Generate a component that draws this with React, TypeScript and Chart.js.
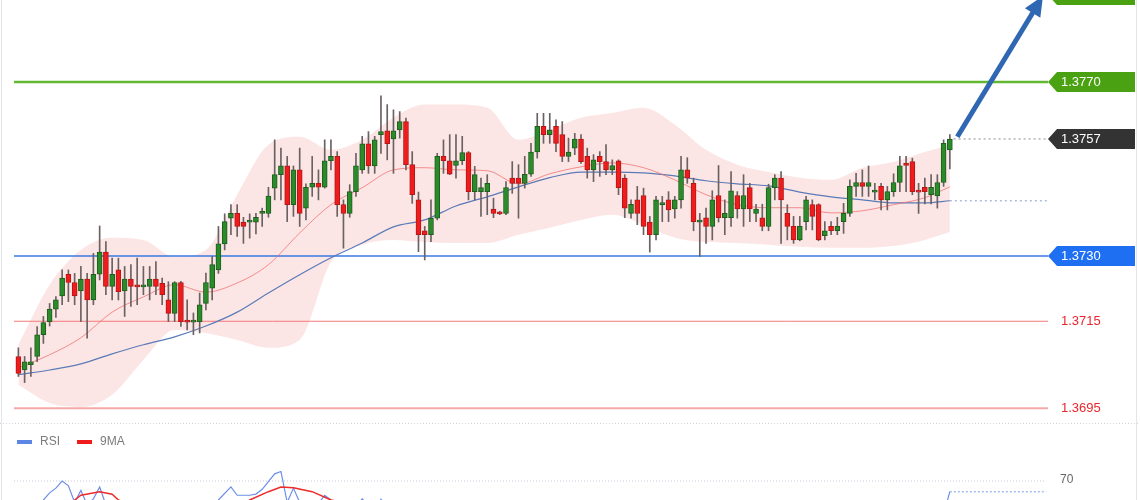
import React, { useEffect, useRef } from 'react';
import { Chart, registerables } from 'chart.js';

Chart.register(...registerables);

// ---------- candles (150 bars) ----------
const opens = [
  1.37069, 1.37038, 1.37050, 1.37069, 1.37119, 1.37149, 1.37178, 1.37208, 1.37258, 1.37239,
  1.37220, 1.37247, 1.37199, 1.37258, 1.37309, 1.37230, 1.37268, 1.37220, 1.37247, 1.37231,
  1.37229, 1.37230, 1.37247, 1.37237, 1.37199, 1.37168, 1.37239, 1.37150, 1.37148, 1.37149,
  1.37191, 1.37226, 1.37268, 1.37328, 1.37387, 1.37398, 1.37378, 1.37378, 1.37378, 1.37398,
  1.37398, 1.37456, 1.37487, 1.37507, 1.37418, 1.37498, 1.37410, 1.37458, 1.37467, 1.37458,
  1.37519, 1.37529, 1.37418, 1.37398, 1.37448, 1.37498, 1.37558, 1.37507, 1.37579, 1.37588,
  1.37569, 1.37590, 1.37609, 1.37510, 1.37429, 1.37358, 1.37349, 1.37387, 1.37529, 1.37519,
  1.37508, 1.37519, 1.37538, 1.37448, 1.37448, 1.37448, 1.37408, 1.37399, 1.37398, 1.37479,
  1.37479, 1.37467, 1.37488, 1.37539, 1.37598, 1.37579, 1.37598, 1.37579, 1.37529, 1.37548,
  1.37569, 1.37529, 1.37498, 1.37529, 1.37517, 1.37498, 1.37519, 1.37479, 1.37398, 1.37429,
  1.37439, 1.37378, 1.37349, 1.37418, 1.37429, 1.37408, 1.37429, 1.37498, 1.37467, 1.37378,
  1.37388, 1.37368, 1.37439, 1.37388, 1.37388, 1.37439, 1.37408, 1.37457, 1.37398, 1.37388,
  1.37368, 1.37457, 1.37479, 1.37398, 1.37368, 1.37337, 1.37379, 1.37418, 1.37418, 1.37347,
  1.37368, 1.37358, 1.37379, 1.37398, 1.37460, 1.37469, 1.37460, 1.37447, 1.37460, 1.37429,
  1.37448, 1.37469, 1.37513, 1.37517, 1.37449, 1.37458, 1.37441, 1.37438, 1.37469, 1.37544,
];
const highs = [
  1.37089, 1.37069, 1.37089, 1.37138, 1.37161, 1.37191, 1.37207, 1.37268, 1.37268, 1.37260,
  1.37276, 1.37260, 1.37306, 1.37369, 1.37333, 1.37295, 1.37295, 1.37276, 1.37280, 1.37295,
  1.37276, 1.37276, 1.37287, 1.37249, 1.37241, 1.37241, 1.37242, 1.37199, 1.37169, 1.37215,
  1.37261, 1.37299, 1.37368, 1.37397, 1.37418, 1.37418, 1.37389, 1.37397, 1.37398, 1.37410,
  1.37458, 1.37567, 1.37548, 1.37529, 1.37507, 1.37548, 1.37466, 1.37529, 1.37498, 1.37567,
  1.37567, 1.37540, 1.37429, 1.37464, 1.37536, 1.37575, 1.37586, 1.37575, 1.37668, 1.37648,
  1.37636, 1.37632, 1.37617, 1.37540, 1.37447, 1.37368, 1.37429, 1.37536, 1.37567, 1.37579,
  1.37579, 1.37575, 1.37540, 1.37506, 1.37479, 1.37487, 1.37433, 1.37403, 1.37471, 1.37517,
  1.37510, 1.37529, 1.37559, 1.37628, 1.37628, 1.37628, 1.37613, 1.37609, 1.37571, 1.37582,
  1.37579, 1.37548, 1.37533, 1.37540, 1.37556, 1.37521, 1.37521, 1.37487, 1.37429, 1.37460,
  1.37456, 1.37391, 1.37437, 1.37437, 1.37448, 1.37437, 1.37529, 1.37526, 1.37479, 1.37398,
  1.37410, 1.37450, 1.37508, 1.37429, 1.37494, 1.37448, 1.37487, 1.37467, 1.37419, 1.37419,
  1.37465, 1.37487, 1.37494, 1.37418, 1.37391, 1.37391, 1.37437, 1.37429, 1.37420, 1.37379,
  1.37379, 1.37389, 1.37421, 1.37475, 1.37490, 1.37498, 1.37507, 1.37467, 1.37467, 1.37460,
  1.37489, 1.37529, 1.37529, 1.37525, 1.37467, 1.37479, 1.37487, 1.37487, 1.37567, 1.37579,
];
const lows = [
  1.37023, 1.37009, 1.37023, 1.37057, 1.37099, 1.37139, 1.37159, 1.37188, 1.37195, 1.37188,
  1.37149, 1.37111, 1.37188, 1.37245, 1.37211, 1.37199, 1.37199, 1.37161, 1.37184, 1.37188,
  1.37211, 1.37199, 1.37211, 1.37188, 1.37149, 1.37149, 1.37138, 1.37130, 1.37119, 1.37123,
  1.37176, 1.37199, 1.37260, 1.37314, 1.37349, 1.37345, 1.37329, 1.37341, 1.37351, 1.37368,
  1.37389, 1.37429, 1.37429, 1.37379, 1.37391, 1.37368, 1.37383, 1.37437, 1.37429, 1.37456,
  1.37498, 1.37391, 1.37318, 1.37389, 1.37437, 1.37490, 1.37490, 1.37490, 1.37536, 1.37521,
  1.37490, 1.37571, 1.37498, 1.37421, 1.37310, 1.37291, 1.37333, 1.37383, 1.37490, 1.37487,
  1.37479, 1.37510, 1.37429, 1.37429, 1.37391, 1.37395, 1.37388, 1.37395, 1.37395, 1.37444,
  1.37387, 1.37456, 1.37483, 1.37525, 1.37559, 1.37559, 1.37540, 1.37517, 1.37517, 1.37533,
  1.37513, 1.37479, 1.37471, 1.37483, 1.37487, 1.37487, 1.37441, 1.37388, 1.37387, 1.37372,
  1.37349, 1.37309, 1.37337, 1.37379, 1.37379, 1.37387, 1.37410, 1.37467, 1.37358, 1.37299,
  1.37329, 1.37337, 1.37378, 1.37349, 1.37368, 1.37387, 1.37368, 1.37379, 1.37379, 1.37358,
  1.37358, 1.37429, 1.37329, 1.37337, 1.37329, 1.37335, 1.37360, 1.37360, 1.37335, 1.37337,
  1.37349, 1.37349, 1.37352, 1.37391, 1.37437, 1.37437, 1.37437, 1.37429, 1.37406, 1.37406,
  1.37437, 1.37448, 1.37448, 1.37441, 1.37398, 1.37420, 1.37420, 1.37410, 1.37460, 1.37500,
];
const closes = [
  1.37030, 1.37057, 1.37057, 1.37119, 1.37147, 1.37178, 1.37199, 1.37249, 1.37239, 1.37208,
  1.37247, 1.37199, 1.37258, 1.37309, 1.37230, 1.37258, 1.37218, 1.37247, 1.37230, 1.37229,
  1.37231, 1.37247, 1.37230, 1.37211, 1.37168, 1.37239, 1.37149, 1.37148, 1.37150, 1.37188,
  1.37239, 1.37280, 1.37328, 1.37379, 1.37398, 1.37368, 1.37368, 1.37380, 1.37389, 1.37402,
  1.37438, 1.37487, 1.37507, 1.37418, 1.37498, 1.37398, 1.37458, 1.37467, 1.37458, 1.37519,
  1.37529, 1.37418, 1.37398, 1.37448, 1.37507, 1.37558, 1.37507, 1.37567, 1.37586, 1.37558,
  1.37588, 1.37609, 1.37510, 1.37441, 1.37349, 1.37349, 1.37387, 1.37529, 1.37519, 1.37488,
  1.37519, 1.37538, 1.37448, 1.37487, 1.37457, 1.37467, 1.37398, 1.37397, 1.37457, 1.37467,
  1.37467, 1.37488, 1.37539, 1.37598, 1.37579, 1.37590, 1.37559, 1.37529, 1.37539, 1.37569,
  1.37517, 1.37498, 1.37521, 1.37517, 1.37498, 1.37508, 1.37457, 1.37410, 1.37419, 1.37398,
  1.37368, 1.37349, 1.37429, 1.37420, 1.37406, 1.37429, 1.37498, 1.37479, 1.37379, 1.37380,
  1.37368, 1.37429, 1.37388, 1.37398, 1.37450, 1.37408, 1.37439, 1.37408, 1.37408, 1.37368,
  1.37457, 1.37479, 1.37429, 1.37368, 1.37337, 1.37368, 1.37429, 1.37391, 1.37337, 1.37358,
  1.37358, 1.37368, 1.37398, 1.37460, 1.37469, 1.37460, 1.37469, 1.37449, 1.37429, 1.37448,
  1.37469, 1.37507, 1.37508, 1.37448, 1.37447, 1.37448, 1.37458, 1.37469, 1.37559, 1.37569,
];

// ---------- overlays, read at every 5th bar ----------
const bandIdx = [0, 5, 10, 15, 20, 25, 30, 35, 40, 45, 50, 55, 60, 65, 70, 75, 80, 85, 90, 95, 100, 105, 110, 115, 120, 125, 130, 135, 140, 145, 149];
const bbUpper = [1.37096, 1.37234, 1.37314, 1.37342, 1.37337, 1.37298, 1.37314, 1.37441, 1.37556, 1.37574, 1.37544, 1.37567, 1.37618, 1.37648, 1.37648, 1.37641, 1.37567, 1.37590, 1.37618, 1.37629, 1.37641, 1.37602, 1.37544, 1.37510, 1.37493, 1.37480, 1.37475, 1.37503, 1.37516, 1.37539, 1.37556];
const bbLower = [1.37004, 1.36962, 1.36953, 1.36981, 1.37061, 1.37130, 1.37123, 1.37107, 1.37089, 1.37107, 1.37286, 1.37326, 1.37337, 1.37332, 1.37330, 1.37330, 1.37349, 1.37365, 1.37383, 1.37395, 1.37372, 1.37342, 1.37332, 1.37330, 1.37326, 1.37321, 1.37319, 1.37319, 1.37323, 1.37337, 1.37355];
const maFast = [1.37043, 1.37073, 1.37112, 1.37171, 1.37206, 1.37234, 1.37217, 1.37238, 1.37280, 1.37353, 1.37418, 1.37457, 1.37498, 1.37503, 1.37498, 1.37496, 1.37466, 1.37489, 1.37505, 1.37514, 1.37503, 1.37475, 1.37441, 1.37418, 1.37411, 1.37411, 1.37399, 1.37404, 1.37418, 1.37434, 1.37459];
const maSlow = [1.37027, 1.37038, 1.37052, 1.37075, 1.37096, 1.37114, 1.37139, 1.37171, 1.37215, 1.37257, 1.37296, 1.37330, 1.37367, 1.37383, 1.37415, 1.37436, 1.37459, 1.37480, 1.37493, 1.37493, 1.37491, 1.37484, 1.37473, 1.37466, 1.37461, 1.37447, 1.37436, 1.37429, 1.37422, 1.37422, 1.37427];

// ---------- horizontal levels ----------
const levelValues = [1.3790, 1.3770, 1.3730, 1.3715, 1.3695];
const levelLabels = ['1.3790', '1.3770', '1.3730', '1.3715', '1.3695'];
const lastPriceLabel = '1.3757';
const arrowFrom = [150.2, 1.37574];
const arrowTo = [163.9, 1.37898];

// ---------- RSI panel ----------
const rsiIdx = [0, 2, 3, 4, 5, 6, 7, 8, 9, 10, 11, 12, 13, 14, 16, 18, 20, 24, 27, 29, 31, 32, 34, 35, 37, 38, 39, 41, 42, 43, 44, 45, 47, 49, 50, 52, 55, 57, 58, 60, 62, 64, 66, 70, 75, 80, 85, 90, 95, 100, 105, 110, 115, 120, 125, 130, 135, 140, 145, 147, 148, 149];
const rsiVal = [50, 55, 60, 62, 65, 67, 70, 68, 61, 66, 60, 62.5, 67.5, 60, 58, 55, 52, 48, 40, 45, 58, 62, 67.5, 64, 64, 64.5, 66.5, 73, 74, 61, 67, 61, 57, 64, 62, 53, 62.5, 57, 62.3, 57, 60, 50, 40, 55, 48, 52, 58, 52, 47, 42, 45, 38, 46, 42, 36, 40, 52, 48, 47, 50, 56, 65.5];
const rsiMaIdx = [0, 5, 8, 9, 10, 13, 15, 16, 18, 22, 28, 33, 37, 40, 42, 44, 47, 50, 55, 60, 65, 70, 80, 90, 100, 110, 120, 130, 140, 149];
const rsiMaVal = [52, 56, 60, 62, 64, 65.5, 64.4, 62, 60, 56, 48, 52, 62, 65.5, 67.5, 67.2, 65.5, 62, 59, 58, 55, 52, 50, 54, 45, 40, 42, 40, 47, 52];
const rsiTicks = [70];

// ---------- styling ----------
const X_MIN = -0.7;
const X_MAX = 164.7;
const FONT = '"Liberation Sans", Arial, sans-serif';
const levelColors = ['#62b733', '#62b733', '#3a78e4', '#f47a7a', '#f7a9a9'];
const levelWidths = [2.5, 2.5, 1.6, 1, 2];
const tagColors = ['#4aa111', '#4aa111', '#1f6ff2', null, null];
const GREEN = '#2b8b2b';
const GREEN_B = '#1d5e1d';
const RED = '#ee1c1c';
const RED_B = '#b51616';

const pts = (idx: number[], vals: number[]) => idx.map((x, k) => ({ x, y: vals[k] }));

function drawTag(ctx: CanvasRenderingContext2D, left: number, right: number, yc: number, color: string, text: string) {
  ctx.fillStyle = color;
  ctx.beginPath();
  ctx.moveTo(left, yc);
  ctx.lineTo(left + 9, yc - 10);
  ctx.lineTo(right, yc - 10);
  ctx.lineTo(right, yc + 10);
  ctx.lineTo(left + 9, yc + 10);
  ctx.closePath();
  ctx.fill();
  ctx.fillStyle = '#ffffff';
  ctx.font = `13px ${FONT}`;
  ctx.textBaseline = 'middle';
  ctx.textAlign = 'left';
  ctx.fillText(text, left + 13, yc + 0.5);
}

function frame(ctx: CanvasRenderingContext2D, h: number) {
  ctx.strokeStyle = '#e2e5ea';
  ctx.lineWidth = 1;
  ctx.setLineDash([]);
  ctx.beginPath();
  ctx.moveTo(1.5, 0);
  ctx.lineTo(1.5, h);
  ctx.moveTo(1136.5, 0);
  ctx.lineTo(1136.5, h);
  ctx.stroke();
}

const pricePlugin = {
  id: 'priceDecor',
  afterDatasetsDraw(chart: any) {
    const { ctx, chartArea } = chart;
    const x = chart.scales.x;
    const y = chart.scales.y;
    ctx.save();
    const left = chartArea.right;
    const right = 1135;
    levelValues.forEach((v, k) => {
      const yc = y.getPixelForValue(v);
      const c = tagColors[k];
      if (c) {
        drawTag(ctx, left, right, yc, c, levelLabels[k]);
      } else {
        ctx.fillStyle = '#e8262c';
        ctx.font = `13px ${FONT}`;
        ctx.textBaseline = 'middle';
        ctx.textAlign = 'left';
        ctx.fillText(levelLabels[k], left + 13, yc + 0.5);
      }
    });
    drawTag(ctx, left, right, y.getPixelForValue(closes[closes.length - 1]), '#333333', lastPriceLabel);

    // arrow
    const sx = x.getPixelForValue(arrowFrom[0]);
    const sy = y.getPixelForValue(arrowFrom[1]);
    const ex = x.getPixelForValue(arrowTo[0]);
    const ey = y.getPixelForValue(arrowTo[1]);
    const ang = Math.atan2(ey - sy, ex - sx);
    const headLen = 20;
    const headW = 9;
    const bx = ex - headLen * Math.cos(ang);
    const by = ey - headLen * Math.sin(ang);
    ctx.strokeStyle = '#2f67b2';
    ctx.fillStyle = '#2f67b2';
    ctx.lineWidth = 5;
    ctx.beginPath();
    ctx.moveTo(sx, sy);
    ctx.lineTo(bx + 2 * Math.cos(ang), by + 2 * Math.sin(ang));
    ctx.stroke();
    ctx.beginPath();
    ctx.moveTo(ex, ey);
    ctx.lineTo(bx + headW * Math.sin(ang), by - headW * Math.cos(ang));
    ctx.lineTo(bx - headW * Math.sin(ang), by + headW * Math.cos(ang));
    ctx.closePath();
    ctx.fill();

    // separator
    ctx.strokeStyle = '#cfd4dc';
    ctx.lineWidth = 1;
    ctx.setLineDash([1, 2]);
    ctx.beginPath();
    ctx.moveTo(0, 423.5);
    ctx.lineTo(1140, 423.5);
    ctx.stroke();
    frame(ctx, chart.height);
    ctx.restore();
  },
};

const rsiPlugin = {
  id: 'rsiDecor',
  afterDatasetsDraw(chart: any) {
    const { ctx, chartArea } = chart;
    const y = chart.scales.y;
    ctx.save();
    ctx.font = `12px ${FONT}`;
    ctx.textBaseline = 'middle';
    ctx.textAlign = 'left';
    ctx.fillStyle = '#5b86e5';
    ctx.fillRect(17, 15, 15, 4);
    ctx.fillStyle = '#7b7b7b';
    ctx.fillText('RSI', 40, 17);
    ctx.fillStyle = '#ee1c1c';
    ctx.fillRect(77, 15, 15, 4);
    ctx.fillStyle = '#7b7b7b';
    ctx.fillText('9MA', 100, 17);
    rsiTicks.forEach((t) => {
      ctx.fillStyle = '#666666';
      ctx.fillText(String(t), chartArea.right + 12, y.getPixelForValue(t) - 1);
    });
    frame(ctx, chart.height);
    ctx.restore();
  },
};

export default function App() {
  const priceRef = useRef<HTMLCanvasElement | null>(null);
  const rsiRef = useRef<HTMLCanvasElement | null>(null);

  useEffect(() => {
    const n = closes.length;
    const idx = closes.map((_, i) => i);
    const up = closes.map((c, i) => c >= opens[i]);

    const levelSets = levelValues.map((v, k) => ({
      type: 'line',
      data: [{ x: X_MIN, y: v }, { x: X_MAX, y: v }],
      borderColor: levelColors[k],
      borderWidth: levelWidths[k],
      pointRadius: 0,
      fill: false,
      order: 7,
    }));

    const price = new Chart(priceRef.current as HTMLCanvasElement, {
      type: 'line',
      data: {
        datasets: [
          {
            type: 'line',
            data: pts(bandIdx, bbUpper),
            borderWidth: 0,
            borderColor: 'rgba(0,0,0,0)',
            backgroundColor: 'rgba(247,175,175,0.33)',
            fill: '+1',
            pointRadius: 0,
            cubicInterpolationMode: 'monotone',
            order: 10,
          },
          {
            type: 'line',
            data: pts(bandIdx, bbLower),
            borderWidth: 0,
            borderColor: 'rgba(0,0,0,0)',
            fill: false,
            pointRadius: 0,
            cubicInterpolationMode: 'monotone',
            order: 10,
          },
          {
            type: 'line',
            data: pts(bandIdx, maFast),
            borderColor: 'rgba(240,110,110,0.75)',
            borderWidth: 1,
            pointRadius: 0,
            fill: false,
            cubicInterpolationMode: 'monotone',
            order: 5,
          },
          {
            type: 'line',
            data: pts(bandIdx, maSlow),
            borderColor: '#5a7bb8',
            borderWidth: 1.2,
            pointRadius: 0,
            fill: false,
            cubicInterpolationMode: 'monotone',
            order: 5,
          },
          ...levelSets,
          {
            type: 'line',
            data: [{ x: n - 0.4, y: closes[n - 1] }, { x: X_MAX, y: closes[n - 1] }],
            borderColor: '#8a8a8a',
            borderWidth: 1,
            borderDash: [2, 3],
            pointRadius: 0,
            fill: false,
            order: 6,
          },
          {
            type: 'line',
            data: [{ x: bandIdx[bandIdx.length - 1], y: maSlow[maSlow.length - 1] }, { x: X_MAX, y: maSlow[maSlow.length - 1] }],
            borderColor: '#aebbdb',
            borderWidth: 1.5,
            borderDash: [2, 3],
            pointRadius: 0,
            fill: false,
            order: 6,
          },
          {
            type: 'bar',
            data: idx.map((i) => ({ x: i, y: [lows[i], highs[i]] })),
            backgroundColor: '#6a6262',
            barThickness: 1,
            grouped: false,
            order: 2,
          },
          {
            type: 'bar',
            data: idx.map((i) => ({ x: i, y: [opens[i], closes[i]] })),
            backgroundColor: up.map((u) => (u ? GREEN : RED)),
            borderColor: up.map((u) => (u ? GREEN_B : RED_B)),
            borderWidth: 1,
            borderSkipped: false,
            barThickness: 5,
            minBarLength: 2,
            grouped: false,
            order: 1,
          },
        ] as any,
      },
      options: {
        responsive: false,
        maintainAspectRatio: false,
        animation: false,
        events: [],
        layout: { padding: { left: 14, right: 92, top: 0, bottom: 0 } },
        plugins: { legend: { display: false }, tooltip: { enabled: false } },
        elements: { point: { radius: 0 } },
        scales: {
          x: { type: 'linear', min: X_MIN, max: X_MAX, display: false, offset: false },
          y: { type: 'linear', min: 1.369115, max: 1.378885, display: false },
        },
      } as any,
      plugins: [pricePlugin],
    });

    const rsi = new Chart(rsiRef.current as HTMLCanvasElement, {
      type: 'line',
      data: {
        datasets: [
          {
            data: pts(rsiIdx, rsiVal),
            borderColor: '#6d8ee8',
            borderWidth: 1.2,
            pointRadius: 0,
            fill: false,
            order: 2,
          },
          {
            data: pts(rsiMaIdx, rsiMaVal),
            borderColor: '#ee2a2a',
            borderWidth: 1.5,
            pointRadius: 0,
            fill: false,
            order: 1,
          },
          ...rsiTicks.map((t) => ({
            data: [{ x: X_MIN, y: t }, { x: X_MAX - 0.3, y: t }],
            borderColor: '#c3cad8',
            borderWidth: 1,
            borderDash: [1, 2],
            pointRadius: 0,
            fill: false,
            order: 3,
          })),
          {
            data: [{ x: rsiIdx[rsiIdx.length - 1], y: rsiVal[rsiVal.length - 1] }, { x: X_MAX - 0.3, y: rsiVal[rsiVal.length - 1] }],
            borderColor: '#a9bcf0',
            borderWidth: 1.5,
            borderDash: [2, 2],
            pointRadius: 0,
            fill: false,
            order: 3,
          },
        ] as any,
      },
      options: {
        responsive: false,
        maintainAspectRatio: false,
        animation: false,
        events: [],
        layout: { padding: { left: 14, right: 92, top: 0, bottom: 0 } },
        plugins: { legend: { display: false }, tooltip: { enabled: false } },
        scales: {
          x: { type: 'linear', min: X_MIN, max: X_MAX, display: false },
          y: { type: 'linear', min: 62, max: 93.58, display: false },
        },
      } as any,
      plugins: [rsiPlugin],
    });

    return () => {
      price.destroy();
      rsi.destroy();
    };
  }, []);

  return (
    <div style={{ position: 'absolute', left: 0, top: 0, width: 1140, height: 500, background: '#ffffff', overflow: 'hidden' }}>
      <canvas ref={priceRef} width={1140} height={425} style={{ position: 'absolute', left: 0, top: 0 }} />
      <canvas ref={rsiRef} width={1140} height={75} style={{ position: 'absolute', left: 0, top: 425 }} />
    </div>
  );
}
